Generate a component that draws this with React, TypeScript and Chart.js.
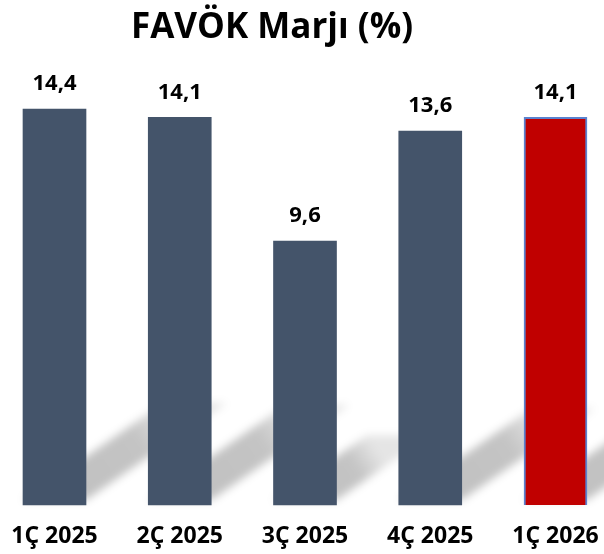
import { useEffect, useRef } from 'react';
import { Chart, registerables } from 'chart.js';

Chart.register(...registerables);

const categories = ['1Ç 2025', '2Ç 2025', '3Ç 2025', '4Ç 2025', '1Ç 2026'];
const values = [14.4, 14.1, 9.6, 13.6, 14.1];
const valueLabels = ['14,4', '14,1', '9,6', '13,6', '14,1'];
const barColors = ['#44546A', '#44546A', '#44546A', '#44546A', '#C00000'];
const borderColors = ['#44546A', '#44546A', '#44546A', '#44546A', '#5A82CF'];
const borderWidths = [0, 0, 0, 0, 2];
const chartTitle = 'FAVÖK Marjı (%)';
const yMax = 16;

const FONT = '"Open Sans", Lato, sans-serif';

export default function App() {
  const ref = useRef<HTMLCanvasElement>(null);

  useEffect(() => {
    if (!ref.current) return;

    const shadowPlugin = {
      id: 'barShadow',
      beforeDatasetsDraw(chart: any) {
        const ctx = chart.ctx;
        const meta = chart.getDatasetMeta(0);
        ctx.save();
        ctx.filter = 'blur(4px)';
        meta.data.forEach((bar: any) => {
          const { x, y, base, width } = bar.getProps(['x', 'y', 'base', 'width'], true);
          const left = x - width / 2;
          const right = x + width / 2;
          const h = base - y;
          const L = 0.355 * h;
          const rise = 0.69 * L;
          const b = base - 5;
          const g = ctx.createLinearGradient(left, b, left + L, b - rise);
          g.addColorStop(0, 'rgba(0,0,0,0.25)');
          g.addColorStop(0.75, 'rgba(0,0,0,0.23)');
          g.addColorStop(1, 'rgba(0,0,0,0.10)');
          ctx.fillStyle = g;
          ctx.beginPath();
          ctx.moveTo(left, b);
          ctx.lineTo(right, b);
          ctx.lineTo(right + L, b - rise);
          ctx.lineTo(left + L, b - rise);
          ctx.closePath();
          ctx.fill();
        });
        ctx.restore();
      },
    };

    const labelPlugin = {
      id: 'valueLabels',
      afterDatasetsDraw(chart: any) {
        const ctx = chart.ctx;
        const meta = chart.getDatasetMeta(0);
        ctx.save();
        ctx.font = `bold 22px ${FONT}`;
        ctx.fillStyle = '#000';
        ctx.textAlign = 'center';
        ctx.textBaseline = 'middle';
        meta.data.forEach((bar: any, i: number) => {
          ctx.fillText(valueLabels[i], bar.x, bar.y - 25);
        });
        ctx.restore();
      },
    };

    const titlePlugin = {
      id: 'customTitle',
      afterDraw(chart: any) {
        const ctx = chart.ctx;
        ctx.save();
        ctx.font = `bold 35px ${FONT}`;
        ctx.fillStyle = '#000';
        ctx.textAlign = 'center';
        ctx.textBaseline = 'middle';
        ctx.fillText(chartTitle, 272, 28);
        ctx.restore();
      },
    };

    const chart = new Chart(ref.current, {
      type: 'bar',
      data: {
        labels: categories,
        datasets: [
          {
            data: values,
            backgroundColor: barColors,
            borderColor: borderColors,
            borderWidth: borderWidths,
            barThickness: 63,
            clip: false as any,
          },
        ],
      },
      options: {
        responsive: false,
        animation: false,
        devicePixelRatio: 1,
        layout: { padding: { left: 54.5, right: 48.5, top: 65, bottom: 0 } },
        plugins: {
          legend: { display: false },
          title: { display: false },
          tooltip: { enabled: false },
        },
        scales: {
          x: {
            offset: false,
            grid: { display: false, drawTicks: true, tickLength: 18 },
            border: { display: false },
            ticks: {
              color: '#000',
              padding: 0,
              font: { family: FONT, size: 23, weight: 'bold' },
              maxRotation: 0,
              autoSkip: false,
            },
            afterFit(scale: any) {
              scale.height = 49;
            },
          },
          y: {
            display: false,
            min: 0,
            max: yMax,
          },
        },
      },
      plugins: [shadowPlugin, labelPlugin, titlePlugin],
    });

    return () => chart.destroy();
  }, []);

  return (
    <div style={{ position: 'fixed', left: 0, top: 0, width: 604, height: 554, background: '#fff' }}>
      <canvas ref={ref} width={604} height={554} style={{ display: 'block' }} />
    </div>
  );
}
